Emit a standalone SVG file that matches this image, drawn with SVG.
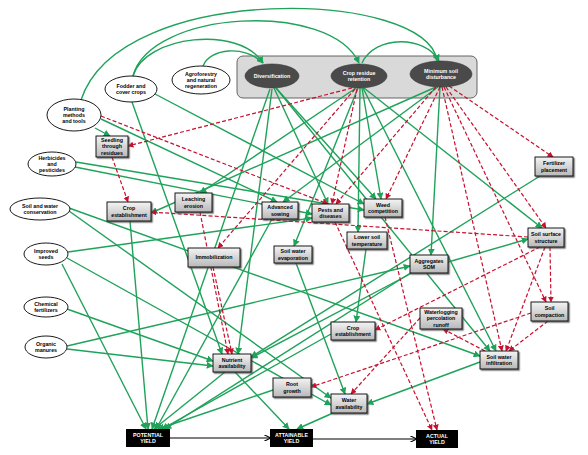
<svg xmlns="http://www.w3.org/2000/svg" width="588" height="455" viewBox="0 0 588 455">
<defs>
<linearGradient id="gb" x1="0" y1="0" x2="0" y2="1"><stop offset="0" stop-color="#f4f4f4"/><stop offset="1" stop-color="#b8b8b8"/></linearGradient>
<filter id="sh" x="-20%" y="-20%" width="150%" height="150%"><feDropShadow dx="1.3" dy="1.3" stdDeviation="0.4" flood-color="#444" flood-opacity="0.8"/></filter>
<marker id="ag" viewBox="0 0 10 10" refX="9" refY="5" markerWidth="5" markerHeight="5" orient="auto"><path d="M0,0 L10,5 L0,10 z" fill="#1fa25a"/></marker>
<marker id="ar" viewBox="0 0 10 10" refX="9" refY="5" markerWidth="5" markerHeight="5" orient="auto"><path d="M0,0 L10,5 L0,10 z" fill="#c8102e"/></marker>
<marker id="ak" viewBox="0 0 10 10" refX="9" refY="5" markerWidth="6" markerHeight="6" orient="auto"><path d="M0,0 L10,5 L0,10" fill="none" stroke="#000" stroke-width="1.6"/></marker>
</defs>
<style>
.g{stroke:#1fa25a;stroke-width:1.4;fill:none;marker-end:url(#ag)}
.r{stroke:#c8102e;stroke-width:1.2;fill:none;stroke-dasharray:4 2.2;marker-end:url(#ar)}
.k{stroke:#000;stroke-width:1.1;fill:none;marker-end:url(#ak)}
.box{fill:url(#gb);stroke:#000;stroke-width:0.9;filter:url(#sh)}
.yb{fill:#000}
.we{fill:#fff;stroke:#000;stroke-width:0.9}
.de{fill:#4a4a4a;stroke:#333;stroke-width:0.6}
text{font-family:"Liberation Sans",Arial,sans-serif;font-weight:bold;font-size:5.3px;text-anchor:middle;fill:#000}
.wt{fill:#fff}
</style>
<rect width="588" height="455" fill="#fff"/>
<rect x="237" y="56" width="240" height="42" rx="6" fill="#d9d9d9" stroke="#555" stroke-width="0.9"/>
<g id="connectors">
<path class="g" d="M81,100 C120,-20 430,-10 437,61"/>
<path class="g" d="M133,76 C150,10 330,0 359,63"/>
<path class="g" d="M133,76 C145,35 240,25 263,63"/>
<path class="g" d="M203,66 C210,48 245,45 263,63"/>
<path class="g" d="M362,63 C375,35 425,35 439,61"/>
<line class="g" x1="95" y1="128" x2="110" y2="136"/>
<line class="g" x1="101" y1="119" x2="277" y2="202"/>
<line class="g" x1="132" y1="102" x2="222" y2="354"/>
<line class="g" x1="155" y1="94" x2="364" y2="204"/>
<line class="g" x1="76" y1="162" x2="364" y2="210"/>
<line class="g" x1="75" y1="167" x2="312" y2="214"/>
<line class="g" x1="438" y1="87" x2="283" y2="202"/>
<line class="g" x1="356" y1="88" x2="200" y2="193"/>
<line class="g" x1="362" y1="88" x2="381" y2="199"/>
<line class="g" x1="360" y1="88" x2="358" y2="232"/>
<line class="g" x1="358" y1="88" x2="294" y2="246"/>
<line class="g" x1="364" y1="88" x2="542" y2="228"/>
<line class="g" x1="363" y1="88" x2="496" y2="351"/>
<line class="g" x1="276" y1="88" x2="490" y2="351"/>
<line class="g" x1="274" y1="88" x2="328" y2="204"/>
<line class="g" x1="276" y1="88" x2="376" y2="199"/>
<line class="g" x1="440" y1="87" x2="431" y2="255"/>
<line class="g" x1="366" y1="249" x2="356" y2="322"/>
<line class="g" x1="448" y1="262" x2="528" y2="239"/>
<line class="g" x1="412" y1="273" x2="251" y2="358"/>
<line class="g" x1="67" y1="346" x2="410" y2="266"/>
<line class="g" x1="67" y1="309" x2="213" y2="361"/>
<line class="g" x1="67" y1="349" x2="213" y2="366"/>
<line class="g" x1="296" y1="263" x2="345" y2="394"/>
<line class="g" x1="480" y1="362" x2="367" y2="404"/>
<line class="g" x1="225" y1="372" x2="154" y2="429"/>
<line class="g" x1="235" y1="372" x2="289" y2="429"/>
<line class="g" x1="273" y1="390" x2="158" y2="429"/>
<line class="g" x1="333" y1="413" x2="297" y2="429"/>
<line class="g" x1="62" y1="264" x2="146" y2="429"/>
<line class="g" x1="130" y1="221" x2="148" y2="429"/>
<line class="g" x1="270" y1="89" x2="152" y2="429"/>
<line class="g" x1="331" y1="334" x2="162" y2="429"/>
<line class="g" x1="412" y1="272" x2="165" y2="429"/>
<line class="g" x1="68" y1="252" x2="312" y2="218"/>
<line class="g" x1="67" y1="258" x2="331" y2="405"/>
<line class="g" x1="69" y1="211" x2="331" y2="398"/>
<line class="g" x1="69" y1="208" x2="480" y2="356"/>
<line class="g" x1="540" y1="176" x2="251" y2="357"/>
<line class="g" x1="272" y1="219" x2="156" y2="429"/>
<line class="g" x1="436" y1="87" x2="151" y2="213"/>
<line class="g" x1="272" y1="89" x2="238" y2="354"/>
<line class="r" x1="101" y1="116" x2="328" y2="204"/>
<line class="r" x1="352" y1="88" x2="128" y2="146"/>
<line class="r" x1="355" y1="89" x2="218" y2="248"/>
<line class="r" x1="357" y1="89" x2="332" y2="204"/>
<line class="r" x1="436" y1="87" x2="336" y2="204"/>
<line class="r" x1="440" y1="87" x2="386" y2="199"/>
<line class="r" x1="449" y1="86" x2="553" y2="157"/>
<line class="r" x1="446" y1="87" x2="546" y2="228"/>
<line class="r" x1="444" y1="87" x2="546" y2="302"/>
<line class="r" x1="442" y1="87" x2="502" y2="351"/>
<line class="r" x1="528" y1="237" x2="151" y2="212"/>
<line class="r" x1="540" y1="247" x2="375" y2="330"/>
<line class="r" x1="545" y1="247" x2="506" y2="351"/>
<line class="r" x1="550" y1="247" x2="551" y2="302"/>
<line class="r" x1="548" y1="321" x2="509" y2="351"/>
<line class="r" x1="531" y1="313" x2="311" y2="387"/>
<line class="r" x1="485" y1="351" x2="443" y2="329"/>
<line class="r" x1="420" y1="318" x2="351" y2="394"/>
<line class="r" x1="335" y1="222" x2="432" y2="430"/>
<line class="r" x1="385" y1="217" x2="437" y2="430"/>
<line class="r" x1="112" y1="157" x2="128" y2="202"/>
<line class="r" x1="200" y1="212" x2="228" y2="354"/>
<line class="r" x1="213" y1="267" x2="232" y2="354"/>
<line class="k" x1="170" y1="438" x2="270" y2="438"/>
<line class="k" x1="313" y1="439" x2="416" y2="439"/>
</g>
<g id="n-diversification"><ellipse class="de" cx="272" cy="76" rx="27" ry="12"/><text class="wt" x="272" y="77.9">Diversification</text></g>
<g id="n-crop-residue"><ellipse class="de" cx="359" cy="76" rx="28" ry="12"/><text class="wt" x="359" y="74.8">Crop residue</text><text class="wt" x="359" y="81">retention</text></g>
<g id="n-min-soil"><ellipse class="de" cx="441" cy="74" rx="31" ry="13"/><text class="wt" x="441" y="72.8">Minimum soil</text><text class="wt" x="441" y="79">disturbance</text></g>
<g id="n-planting"><ellipse class="we" cx="74" cy="115" rx="27" ry="16"/><text x="74" y="110.7">Planting</text><text x="74" y="116.9">methods</text><text x="74" y="123.1">and tools</text></g>
<g id="n-fodder"><ellipse class="we" cx="131" cy="89" rx="26" ry="13"/><text x="131" y="87.8">Fodder and</text><text x="131" y="94">cover crops</text></g>
<g id="n-agroforestry"><ellipse class="we" cx="201" cy="80" rx="29" ry="14"/><text x="201" y="75.7">Agroforestry</text><text x="201" y="81.9">and natural</text><text x="201" y="88.1">regeneration</text></g>
<g id="n-herbicides"><ellipse class="we" cx="52" cy="164" rx="24" ry="12"/><text x="52" y="159.7">Herbicides</text><text x="52" y="165.9">and</text><text x="52" y="172.1">pesticides</text></g>
<g id="n-swc"><ellipse class="we" cx="40" cy="209" rx="30" ry="11"/><text x="40" y="207.8">Soil and water</text><text x="40" y="214">conservation</text></g>
<g id="n-seeds"><ellipse class="we" cx="46" cy="254" rx="22" ry="11"/><text x="46" y="252.8">Improved</text><text x="46" y="259">seeds</text></g>
<g id="n-chemfert"><ellipse class="we" cx="46" cy="307" rx="22" ry="10"/><text x="46" y="305.8">Chemical</text><text x="46" y="312">fertilizers</text></g>
<g id="n-organic"><ellipse class="we" cx="46" cy="347" rx="21" ry="11"/><text x="46" y="345.8">Organic</text><text x="46" y="352">manures</text></g>
<g id="n-seedling"><rect class="box" x="96" y="136" width="32" height="21"/><text x="112" y="142.2">Seedling</text><text x="112" y="148.4">through</text><text x="112" y="154.6">residues</text></g>
<g id="n-cropest-l"><rect class="box" x="107" y="202" width="44" height="19"/><text x="129" y="210.3">Crop</text><text x="129" y="216.5">establishment</text></g>
<g id="n-leaching"><rect class="box" x="175" y="193" width="37" height="19"/><text x="193.5" y="201.3">Leaching</text><text x="193.5" y="207.5">erosion</text></g>
<g id="n-advsow"><rect class="box" x="262" y="202" width="36" height="17"/><text x="280" y="209.3">Advanced</text><text x="280" y="215.5">sowing</text></g>
<g id="n-pests"><rect class="box" x="312" y="204" width="37" height="18"/><text x="330.5" y="211.8">Pests and</text><text x="330.5" y="218">diseases</text></g>
<g id="n-weed"><rect class="box" x="364" y="199" width="38" height="18"/><text x="383" y="206.8">Weed</text><text x="383" y="213">competition</text></g>
<g id="n-lowtemp"><rect class="box" x="347" y="232" width="40" height="17"/><text x="367" y="239.3">Lower soil</text><text x="367" y="245.5">temperature</text></g>
<g id="n-immob"><rect class="box" x="188" y="248" width="52" height="19"/><text x="214" y="259.4">Immobilization</text></g>
<g id="n-evap"><rect class="box" x="274" y="246" width="38" height="17"/><text x="293" y="253.3">Soil water</text><text x="293" y="259.5">evaporation</text></g>
<g id="n-aggr"><rect class="box" x="410" y="255" width="38" height="18"/><text x="429" y="262.8">Aggregates</text><text x="429" y="269">SOM</text></g>
<g id="n-fert"><rect class="box" x="535" y="157" width="38" height="19"/><text x="554" y="165.3">Fertilizer</text><text x="554" y="171.5">placement</text></g>
<g id="n-sss"><rect class="box" x="528" y="228" width="36" height="19"/><text x="546" y="236.3">Soil surface</text><text x="546" y="242.5">structure</text></g>
<g id="n-compact"><rect class="box" x="531" y="302" width="37" height="19"/><text x="549.5" y="310.3">Soil</text><text x="549.5" y="316.5">compaction</text></g>
<g id="n-waterlog"><rect class="box" x="420" y="308" width="42" height="21"/><text x="441" y="314.2">Waterlogging</text><text x="441" y="320.4">percolation</text><text x="441" y="326.6">runoff</text></g>
<g id="n-cropest-c"><rect class="box" x="331" y="322" width="44" height="18"/><text x="353" y="329.8">Crop</text><text x="353" y="336">establishment</text></g>
<g id="n-infil"><rect class="box" x="480" y="351" width="38" height="18"/><text x="499" y="358.8">Soil water</text><text x="499" y="365">infiltration</text></g>
<g id="n-wateravail"><rect class="box" x="331" y="394" width="36" height="19"/><text x="349" y="402.3">Water</text><text x="349" y="408.5">availability</text></g>
<g id="n-nutrient"><rect class="box" x="213" y="354" width="38" height="18"/><text x="232" y="361.8">Nutrient</text><text x="232" y="368">availability</text></g>
<g id="n-root"><rect class="box" x="273" y="378" width="38" height="19"/><text x="292" y="386.3">Root</text><text x="292" y="392.5">growth</text></g>
<g id="n-potential"><rect class="yb" x="126" y="429" width="44" height="18"/><text class="wt" x="148" y="436.8">POTENTIAL</text><text class="wt" x="148" y="443">YIELD</text></g>
<g id="n-attainable"><rect class="yb" x="270" y="429" width="43" height="18"/><text class="wt" x="291.5" y="436.8">ATTAINABLE</text><text class="wt" x="291.5" y="443">YIELD</text></g>
<g id="n-actual"><rect class="yb" x="416" y="430" width="42" height="18"/><text class="wt" x="437" y="437.8">ACTUAL</text><text class="wt" x="437" y="444">YIELD</text></g>
</svg>
